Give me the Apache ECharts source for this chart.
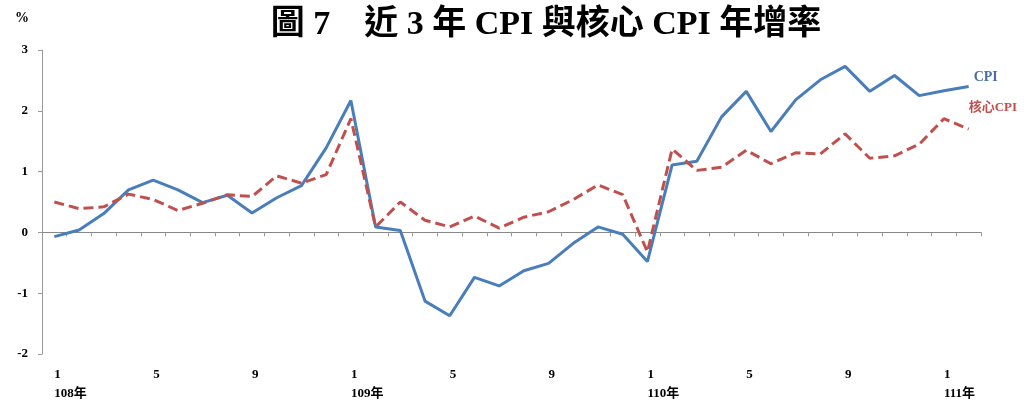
<!DOCTYPE html>
<html>
<head>
<meta charset="utf-8">
<script src="https://cdn.jsdelivr.net/npm/echarts@6/dist/echarts.min.js"></script>
<style>
  html, body { margin: 0; padding: 0; background: #fff; }
  #chart { width: 1032px; height: 403px; }
</style>
</head>
<body>
<div id="chart"></div>
<script>
// 108年1月 ~ 111年2月
const categories = [
  '1\n108年', '2', '3', '4', '5', '6', '7', '8', '9', '10', '11', '12',
  '1\n109年', '2', '3', '4', '5', '6', '7', '8', '9', '10', '11', '12',
  '1\n110年', '2', '3', '4', '5', '6', '7', '8', '9', '10', '11', '12',
  '1\n111年', '2'
];
const cpi = [
  -0.07, 0.04, 0.31, 0.70, 0.86, 0.70, 0.49, 0.61, 0.32, 0.57, 0.77, 1.39,
  2.17, 0.09, 0.03, -1.13, -1.37, -0.74, -0.88, -0.63, -0.51, -0.18, 0.09, -0.03,
  -0.48, 1.11, 1.17, 1.90, 2.32, 1.66, 2.18, 2.51, 2.73, 2.32, 2.58, 2.25,
  2.33, 2.40
];
const coreCpi = [
  0.50, 0.39, 0.42, 0.63, 0.54, 0.36, 0.48, 0.62, 0.59, 0.93, 0.81, 0.95,
  1.87, 0.09, 0.50, 0.20, 0.09, 0.27, 0.07, 0.25, 0.34, 0.54, 0.78, 0.62,
  -0.32, 1.37, 1.02, 1.07, 1.35, 1.13, 1.31, 1.29, 1.62, 1.22, 1.26, 1.45,
  1.87, 1.70
];
const yTicks = { min: -2, max: 3, step: 1 };

const serif = "'Liberation Serif', 'Noto Sans CJK TC', serif";
const chart = echarts.init(document.getElementById('chart'));

chart.setOption({
  animation: false,
  title: {
    text: '圖 7　近 3 年 CPI 與核心 CPI 年增率',
    left: 541,
    top: 3,
    textAlign: 'center',
    textStyle: { fontFamily: serif, fontSize: 34, fontWeight: 'bold', color: '#000' }
  },
  grid: { left: 42, right: 51, top: 50, bottom: 48 },
  xAxis: [
    {
      // 0 軸：只畫線與刻度
      type: 'category',
      data: categories,
      boundaryGap: true,
      axisLine: { onZero: true, lineStyle: { color: '#888', width: 1 } },
      axisTick: { show: true, length: 4, interval: 0, lineStyle: { color: '#999' } },
      axisLabel: { show: false }
    },
    {
      // 底部標籤
      type: 'category',
      data: categories,
      position: 'bottom',
      boundaryGap: true,
      axisLine: { show: false },
      axisTick: { show: false },
      axisLabel: {
        interval: 3,
        margin: 11,
        align: 'left',
        lineHeight: 19,
        fontFamily: serif,
        fontSize: 13,
        fontWeight: 'bold',
        color: '#000'
      }
    }
  ],
  yAxis: {
    type: 'value',
    min: yTicks.min,
    max: yTicks.max,
    interval: yTicks.step,
    name: '%',
    nameLocation: 'end',
    nameGap: 25,
    nameTextStyle: {
      align: 'right', padding: [0, 13, 0, 0],
      fontFamily: serif, fontSize: 14, fontWeight: 'bold', color: '#000'
    },
    axisLine: { show: true, lineStyle: { color: '#999' } },
    axisTick: { show: true, length: 4, lineStyle: { color: '#999' } },
    splitLine: { show: false },
    axisLabel: {
      margin: 14,
      fontFamily: serif,
      fontSize: 13,
      fontWeight: 'bold',
      color: '#000'
    }
  },
  series: [
    {
      name: 'CPI',
      type: 'line',
      data: cpi,
      symbol: 'none',
      lineStyle: { color: '#4A7EBB', width: 3 },
      itemStyle: { color: '#4A7EBB' },
      endLabel: {
        show: true,
        formatter: '{a}',
        offset: [-3, -9],
        fontFamily: serif,
        fontSize: 14,
        fontWeight: 'bold',
        color: '#4A6FA5'
      }
    },
    {
      name: '核心CPI',
      type: 'line',
      data: coreCpi,
      symbol: 'none',
      lineStyle: { color: '#C0504D', width: 3, type: [10, 5] },
      itemStyle: { color: '#C0504D' },
      endLabel: {
        show: true,
        formatter: '{a}',
        offset: [-8, -21],
        fontFamily: serif,
        fontSize: 13,
        fontWeight: 'bold',
        color: '#C0504D'
      }
    }
  ]
});
</script>
</body>
</html>
